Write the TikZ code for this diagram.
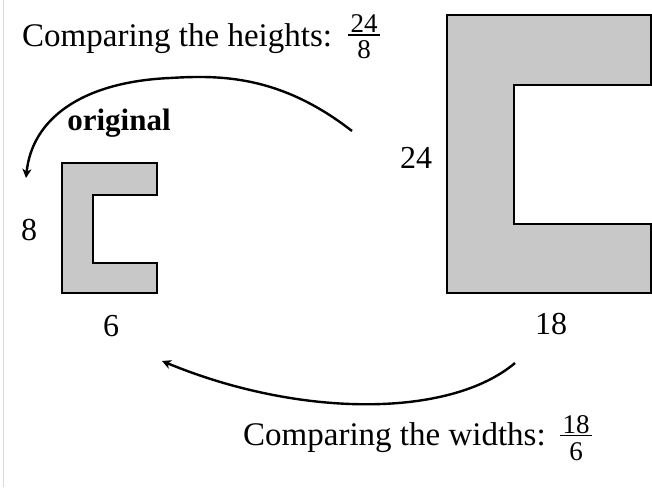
\documentclass[tikz,border=0pt]{standalone}
\usepackage{fontspec}
\setmainfont{Liberation Serif}
\usetikzlibrary{arrows.meta}
\definecolor{shapegrey}{RGB}{200,200,200}
\tikzset{
  cshape/.style={fill=shapegrey, draw=black, line width=2pt, line join=miter},
  bigtext/.style={inner sep=0pt, font=\fontsize{33}{39}\selectfont},
  fractext/.style={inner sep=0pt, font=\fontsize{27}{32}\selectfont},
  fracbar/.style={line width=1.3pt},
  dimlabel/.style={inner sep=0pt, font=\fontsize{32}{38}\selectfont},
  curvedarrow/.style={line width=2.4pt, -{Stealth[length=9pt,width=9pt,inset=2.5pt]}}
}
\begin{document}
\begin{tikzpicture}[x=1pt,y=-1pt]
\useasboundingbox (0,0) rectangle (652,487);
\draw[black!15, line width=1pt] (3,0) -- (3,487);
% small shape
\draw[cshape] (62,163) -- (157,163) -- (157,195) -- (93,195) -- (93,263) -- (157,263) -- (157,293) -- (62,293) -- cycle;
% large shape
\draw[cshape] (447,15) -- (651,15) -- (651,85) -- (514,85) -- (514,224) -- (651,224) -- (651,293) -- (447,293) -- cycle;
% top caption with fraction
\node[bigtext, anchor=base west] (th) at (22,47) {Comparing the heights:};
\node[fractext, anchor=base] (tn) at (364,33) {24};
\node[fractext, anchor=base] (td) at (364,58) {8};
\draw[fracbar] (348,35) -- (380,35);
% bottom caption with fraction
\node[bigtext, anchor=base west] (bw) at (243,445) {Comparing the widths:};
\node[fractext, anchor=base] (bn) at (576,433) {18};
\node[fractext, anchor=base] (bd) at (576,460) {6};
\draw[fracbar] (560,435.5) -- (592,435.5);
% labels
\node[inner sep=0pt, font=\fontsize{31}{36}\selectfont\bfseries] (orig) at (119,123) {original};
\node[dimlabel] (h8) at (29,230) {8};
\node[dimlabel] (w6) at (111,326) {6};
\node[dimlabel] (h24) at (416,158) {24};
\node[dimlabel] (w18) at (551,324) {18};
% arrows
\coordinate (a1s) at (352,131);
\coordinate (a1m) at (170,78);
\coordinate (a1e) at (26,178);
\draw[curvedarrow] (a1s) .. controls (280,75) and (220,75) .. (a1m) .. controls (80,82) and (32,120) .. (a1e);
\coordinate (a2s) at (515,363);
\coordinate (a2e) at (162,361);
\draw[curvedarrow] (a2s) .. controls (450,418) and (300,418) .. (a2e);
\end{tikzpicture}
\end{document}
